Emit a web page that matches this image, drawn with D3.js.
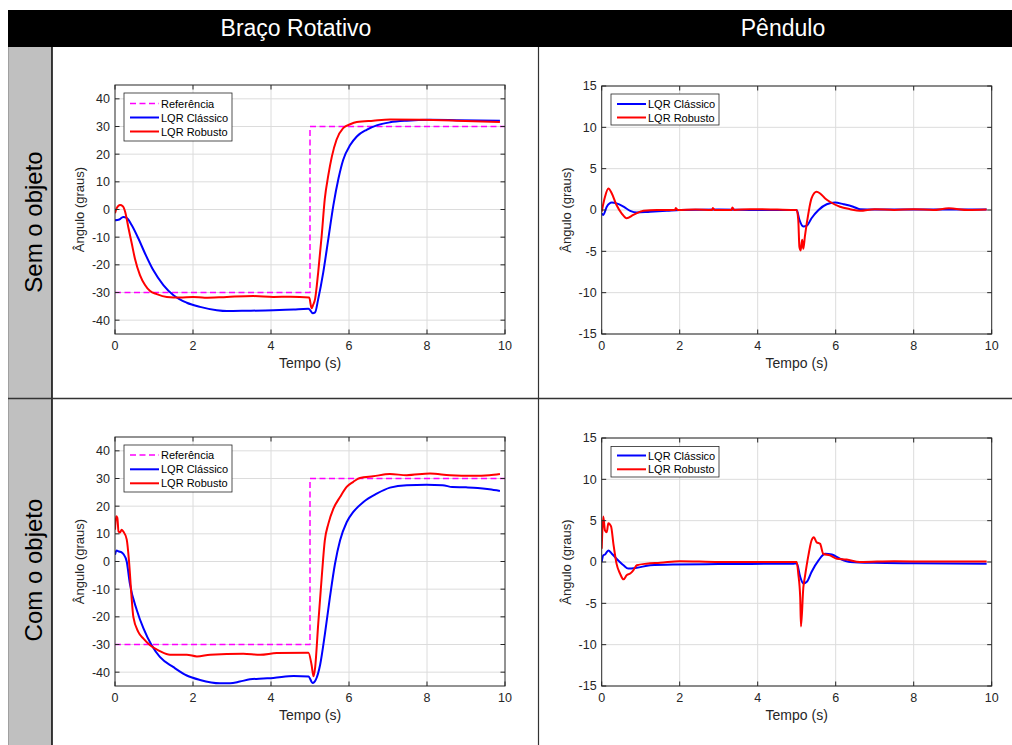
<!DOCTYPE html>
<html>
<head>
<meta charset="utf-8">
<script src="https://cdn.jsdelivr.net/npm/d3@7/dist/d3.min.js"></script>
<style>
  html,body{margin:0;padding:0;background:#fff;}
  svg{display:block;font-family:"Liberation Sans",Arial,Helvetica,sans-serif;}
</style>
</head>
<body>
<svg id="chart" width="1012" height="745"></svg>
<script>
// ---------------- DATA ----------------
const colHeaders = ["Braço Rotativo", "Pêndulo"];
const rowHeaders = ["Sem o objeto", "Com o objeto"];
const seriesNames = ["Referência", "LQR Clássico", "LQR Robusto"];
const xTicks = [0, 2, 4, 6, 8, 10];
const yTicksBraco = [-40, -30, -20, -10, 0, 10, 20, 30, 40];
const yTicksPendulo = [-15, -10, -5, 0, 5, 10, 15];
const xLabel = "Tempo (s)";
const yLabel = "Ângulo (graus)";

// reference (braço)
const referencia = [[0,-30],[5.0,-30],[5.0,30],[10,30]];

// Braço Rotativo – sem objeto
const bracoSemClassico = [[0,-3.9],[0.05,-3.8],[0.11,-3.6],[0.21,-2.7],[0.3,-3.0],[0.43,-5.7],[0.6,-10.5],[0.77,-15.9],[0.98,-21.9],[1.24,-27.3],[1.5,-31],[1.84,-33.7],[2.18,-35.2],[2.61,-36.4],[2.87,-36.7],[3.38,-36.6],[4.06,-36.4],[4.58,-36.1],[4.96,-35.9],[5.0,-36.3],[5.07,-37.5],[5.13,-37.2],[5.21,-32.4],[5.34,-22.7],[5.47,-10.6],[5.6,1.6],[5.73,11.2],[5.85,17.9],[6.03,23.3],[6.2,26.4],[6.45,28.8],[6.71,30.4],[7.05,31.5],[7.48,32.1],[8.08,32.4],[8.76,32.3],[9.87,32.1]];
const bracoSemRobusto = [[0,-1.4],[0.04,0.4],[0.13,1.6],[0.2,1.2],[0.26,-0.8],[0.34,-6.3],[0.43,-12.3],[0.51,-17.7],[0.64,-23.7],[0.77,-27.3],[0.9,-29.5],[1.07,-30.6],[1.33,-31.6],[1.67,-31.8],[2.0,-31.6],[2.3,-31.9],[2.87,-31.6],[3.55,-31.3],[4.06,-31.6],[4.5,-31.5],[4.98,-31.8],[5.04,-35.7],[5.08,-34.5],[5.13,-32.4],[5.21,-22.7],[5.3,-9.4],[5.38,3.9],[5.47,12.4],[5.56,19.1],[5.68,25.2],[5.85,29.4],[6.03,30.8],[6.2,31.6],[6.62,32.1],[7.05,32.5],[7.9,32.4],[8.76,32.1],[9.87,31.6]];

// Braço Rotativo – com objeto
const bracoComClassico = [[0,2.4],[0.04,4],[0.1,3.6],[0.17,3.3],[0.22,2.6],[0.3,0],[0.38,-7.9],[0.56,-17.6],[0.73,-24.2],[0.94,-30.3],[1.15,-34.5],[1.5,-38.2],[1.84,-41.2],[2.18,-42.8],[2.69,-44],[2.95,-44],[3.2,-43.4],[3.46,-42.6],[3.8,-42.3],[4.06,-42.1],[4.58,-41.4],[4.96,-41.6],[5.07,-43.9],[5.15,-42.7],[5.26,-37.3],[5.38,-26.4],[5.51,-13],[5.64,-0.9],[5.77,7.6],[5.94,14.2],[6.11,17.9],[6.37,21.5],[6.71,24.5],[7.05,26.7],[7.48,27.6],[7.99,27.7],[8.4,27.6],[8.65,26.9],[9.0,26.8],[9.3,26.6],[9.6,26.1],[9.87,25.5]];
const bracoComRobusto = [[0,11.5],[0.03,16.4],[0.06,15.8],[0.09,10.9],[0.13,10.5],[0.17,11.5],[0.21,10.9],[0.3,8],[0.36,0],[0.42,-12],[0.47,-20],[0.6,-25.5],[0.73,-27.9],[0.9,-30.3],[1.15,-32.4],[1.41,-33.7],[1.84,-33.7],[2.1,-34.3],[2.44,-33.7],[3.29,-33.3],[3.72,-33.7],[4.15,-33.1],[4.96,-33],[5.04,-37.3],[5.09,-41.5],[5.13,-38.5],[5.21,-22.7],[5.3,-5.8],[5.38,7.6],[5.47,13.6],[5.6,19.1],[5.77,23.3],[5.94,27.0],[6.11,28.8],[6.28,30.2],[6.62,30.8],[7.05,31.6],[7.48,31.2],[8.08,31.8],[8.59,31.2],[9.19,31],[9.6,31.2],[9.87,31.6]];

// Pêndulo – sem objeto
const penduloSemClassico = [[0,-0.4],[0.04,-0.6],[0.13,0.4],[0.26,0.9],[0.38,0.8],[0.56,0.4],[0.73,-0.1],[0.9,-0.3],[1.24,-0.2],[1.67,-0.1],[2,0],[3,0.05],[4,0],[5.0,0],[5.07,-1.2],[5.17,-2.0],[5.26,-1.9],[5.38,-1.0],[5.56,0],[5.77,0.7],[5.98,0.9],[6.2,0.7],[6.45,0.4],[6.62,0.1],[7,0.05],[8,0.05],[9,0.05],[9.87,0.05]];
const penduloSemRobusto = [[0,-0.2],[0.085,1.6],[0.17,2.6],[0.26,2.0],[0.38,0.6],[0.51,-0.4],[0.64,-1.0],[0.81,-0.6],[1.07,-0.1],[1.41,0],[1.88,0],[1.9,0.25],[1.95,0],[2.4,0.05],[2.83,0],[2.85,0.25],[2.9,0],[3.33,0],[3.35,0.3],[3.4,0],[3.8,0.1],[4.5,0.05],[5.0,0],[5.04,-1.2],[5.07,-4.5],[5.1,-4.9],[5.14,-3.6],[5.17,-4.7],[5.21,-3.2],[5.3,-0.4],[5.38,1.4],[5.51,2.2],[5.6,2.0],[5.73,1.4],[5.85,1.0],[6.11,0.4],[6.37,0.1],[6.62,-0.1],[7,0.1],[7.5,0],[8,0.1],[8.5,0],[8.9,0.2],[9.4,0],[9.87,0.05]];

// Pêndulo – com objeto
const penduloComClassico = [[0,0],[0.04,0.8],[0.085,0.9],[0.17,1.4],[0.26,1.0],[0.38,0.4],[0.56,-0.4],[0.68,-0.8],[0.9,-0.7],[1.24,-0.4],[1.84,-0.3],[3,-0.25],[4.9,-0.2],[5.0,-0.15],[5.09,-1.8],[5.17,-2.6],[5.26,-2.4],[5.38,-1.2],[5.56,0.2],[5.73,1.0],[5.9,0.9],[6.11,0.4],[6.37,0],[6.97,-0.1],[8,-0.15],[9.87,-0.2]];
const penduloComRobusto = [[0,1.6],[0.04,5.5],[0.085,3.8],[0.13,3.6],[0.17,4.7],[0.24,4.3],[0.3,2.2],[0.38,-0.2],[0.47,-1.4],[0.56,-2.1],[0.64,-1.6],[0.73,-1.4],[0.81,-1.0],[0.9,-0.4],[1.15,-0.2],[1.5,-0.1],[2.0,0.1],[3,0],[4,0],[5.0,0],[5.04,-1.4],[5.09,-4.3],[5.11,-7.8],[5.17,-3.1],[5.21,-1.8],[5.3,0.8],[5.38,2.6],[5.44,3.0],[5.51,2.4],[5.6,2.2],[5.68,1.0],[5.85,0.8],[6.03,0.4],[6.28,0.3],[6.62,0],[7.5,0.1],[8.5,0.05],[9.87,0.05]];

// ---------------- DRAW ----------------
const svg = d3.select("#chart");
const colors = {ref:"#ff00ff", classico:"#0000ff", robusto:"#ff0000"};
const axisColor = "#262626";
const gridColor = "#dcdcdc";

// table frame
svg.append("rect").attr("x",8).attr("y",10).attr("width",1004).attr("height",37).attr("fill","#000");
svg.append("rect").attr("x",8).attr("y",47).attr("width",44).attr("height",698).attr("fill","#c0c0c0");
svg.append("line").attr("x1",8.5).attr("x2",8.5).attr("y1",47).attr("y2",745).attr("stroke","#a0a0a0").attr("stroke-width",1);
svg.append("line").attr("x1",52).attr("x2",52).attr("y1",47).attr("y2",745).attr("stroke","#000").attr("stroke-width",1.5);
svg.append("line").attr("x1",538.5).attr("x2",538.5).attr("y1",47).attr("y2",745).attr("stroke","#333").attr("stroke-width",1.2);
svg.append("line").attr("x1",8).attr("x2",1012).attr("y1",398.5).attr("y2",398.5).attr("stroke","#333").attr("stroke-width",1.5);

const headerX = [296, 783];
colHeaders.forEach((h,i)=>{
  svg.append("text").attr("x",headerX[i]).attr("y",36).attr("text-anchor","middle")
    .attr("fill","#fff").attr("font-size",23).text(h);
});
const rowY = [222, 570];
rowHeaders.forEach((h,i)=>{
  svg.append("text").attr("transform",`translate(42,${rowY[i]}) rotate(-90)`)
    .attr("text-anchor","middle").attr("fill","#000").attr("font-size",24).text(h);
});

const panels = [
  {x0:115, x1:505, y0:85,  y1:334, dom:[-45,45], ticks:yTicksBraco,
   series:[{d:referencia,c:colors.ref,dash:true,n:seriesNames[0]},{d:bracoSemClassico,c:colors.classico,n:seriesNames[1]},{d:bracoSemRobusto,c:colors.robusto,n:seriesNames[2]}],
   leg:{x:124,y:93,w:108,h:48,rows:[103.5,117.5,131.5]}},
  {x0:601.7, x1:991.7, y0:86, y1:334, dom:[-15,15], ticks:yTicksPendulo,
   series:[{d:penduloSemClassico,c:colors.classico,n:seriesNames[1]},{d:penduloSemRobusto,c:colors.robusto,n:seriesNames[2]}],
   leg:{x:611,y:94,w:108,h:31,rows:[104,117.5]}},
  {x0:115, x1:505, y0:437, y1:686, dom:[-45,45], ticks:yTicksBraco,
   series:[{d:referencia,c:colors.ref,dash:true,n:seriesNames[0]},{d:bracoComClassico,c:colors.classico,n:seriesNames[1]},{d:bracoComRobusto,c:colors.robusto,n:seriesNames[2]}],
   leg:{x:124,y:445,w:108,h:47,rows:[455,469.3,483.3]}},
  {x0:601.7, x1:991.7, y0:438, y1:686, dom:[-15,15], ticks:yTicksPendulo,
   series:[{d:penduloComClassico,c:colors.classico,n:seriesNames[1]},{d:penduloComRobusto,c:colors.robusto,n:seriesNames[2]}],
   leg:{x:611,y:446.5,w:108,h:30.5,rows:[455.5,469.3]}}
];

panels.forEach((p,pi)=>{
  const x = d3.scaleLinear().domain([0,10]).range([p.x0,p.x1]);
  const y = d3.scaleLinear().domain(p.dom).range([p.y1,p.y0]);
  const g = svg.append("g");
  g.append("rect").attr("x",p.x0).attr("y",p.y0).attr("width",p.x1-p.x0).attr("height",p.y1-p.y0).attr("fill","#fff");
  g.append("g").selectAll("line").data(xTicks.filter(t=>t>0&&t<10)).join("line")
    .attr("x1",d=>x(d)).attr("x2",d=>x(d)).attr("y1",p.y0).attr("y2",p.y1)
    .attr("stroke",gridColor).attr("stroke-width",1);
  g.append("g").selectAll("line").data(p.ticks).join("line")
    .attr("x1",p.x0).attr("x2",p.x1).attr("y1",d=>y(d)).attr("y2",d=>y(d))
    .attr("stroke",gridColor).attr("stroke-width",1);
  const cid = "clip"+pi;
  svg.append("clipPath").attr("id",cid).append("rect")
    .attr("x",p.x0).attr("y",p.y0).attr("width",p.x1-p.x0).attr("height",p.y1-p.y0);
  const plot = g.append("g").attr("clip-path",`url(#${cid})`);
  const lineLin = d3.line().x(d=>x(d[0])).y(d=>y(d[1]));
  const lineSm = d3.line().x(d=>x(d[0])).y(d=>y(d[1])).curve(d3.curveMonotoneX);
  p.series.forEach(s=>{
    plot.append("path").attr("d",(s.dash?lineLin:lineSm)(s.d)).attr("fill","none")
      .attr("stroke",s.c).attr("stroke-width",s.dash?1.5:2)
      .attr("stroke-dasharray",s.dash?"6,3.5":null)
      .attr("stroke-linejoin","round");
  });
  const ax = g.append("g");
  ax.append("rect").attr("x",p.x0).attr("y",p.y0).attr("width",p.x1-p.x0).attr("height",p.y1-p.y0)
    .attr("fill","none").attr("stroke",axisColor).attr("stroke-width",1);
  const tl = 4.5;
  ax.selectAll(".xt").data(xTicks).join("g").each(function(d){
    const s = d3.select(this);
    s.append("line").attr("x1",x(d)).attr("x2",x(d)).attr("y1",p.y1).attr("y2",p.y1-tl).attr("stroke",axisColor);
    s.append("line").attr("x1",x(d)).attr("x2",x(d)).attr("y1",p.y0).attr("y2",p.y0+tl).attr("stroke",axisColor);
    s.append("text").attr("x",x(d)).attr("y",p.y1+16).attr("text-anchor","middle")
      .attr("font-size",12.5).attr("fill",axisColor).text(d);
  });
  ax.selectAll(".yt").data(p.ticks).join("g").each(function(d){
    const s = d3.select(this);
    s.append("line").attr("x1",p.x0).attr("x2",p.x0+tl).attr("y1",y(d)).attr("y2",y(d)).attr("stroke",axisColor);
    s.append("line").attr("x1",p.x1).attr("x2",p.x1-tl).attr("y1",y(d)).attr("y2",y(d)).attr("stroke",axisColor);
    s.append("text").attr("x",p.x0-5).attr("y",y(d)+4.4).attr("text-anchor","end")
      .attr("font-size",12.5).attr("fill",axisColor).text(d);
  });
  ax.append("text").attr("x",(p.x0+p.x1)/2).attr("y",p.y1+34).attr("text-anchor","middle")
    .attr("font-size",14).attr("fill",axisColor).text(xLabel);
  ax.append("text").attr("transform",`translate(${p.x0-31},${(p.y0+p.y1)/2}) rotate(-90)`)
    .attr("text-anchor","middle").attr("font-size",13).attr("fill",axisColor).text(yLabel);
  const L = p.leg;
  const lg = g.append("g");
  lg.append("rect").attr("x",L.x).attr("y",L.y).attr("width",L.w).attr("height",L.h)
    .attr("fill","#fff").attr("stroke",axisColor).attr("stroke-width",0.8);
  p.series.forEach((s,i)=>{
    const yy = L.rows[i];
    lg.append("line").attr("x1",L.x+6).attr("x2",L.x+35).attr("y1",yy).attr("y2",yy)
      .attr("stroke",s.c).attr("stroke-width",s.dash?1.5:2).attr("stroke-dasharray",s.dash?"6,3.5":null);
    lg.append("text").attr("x",L.x+37).attr("y",yy+4).attr("font-size",11).attr("fill","#000").text(s.n);
  });
});
</script>
</body>
</html>
